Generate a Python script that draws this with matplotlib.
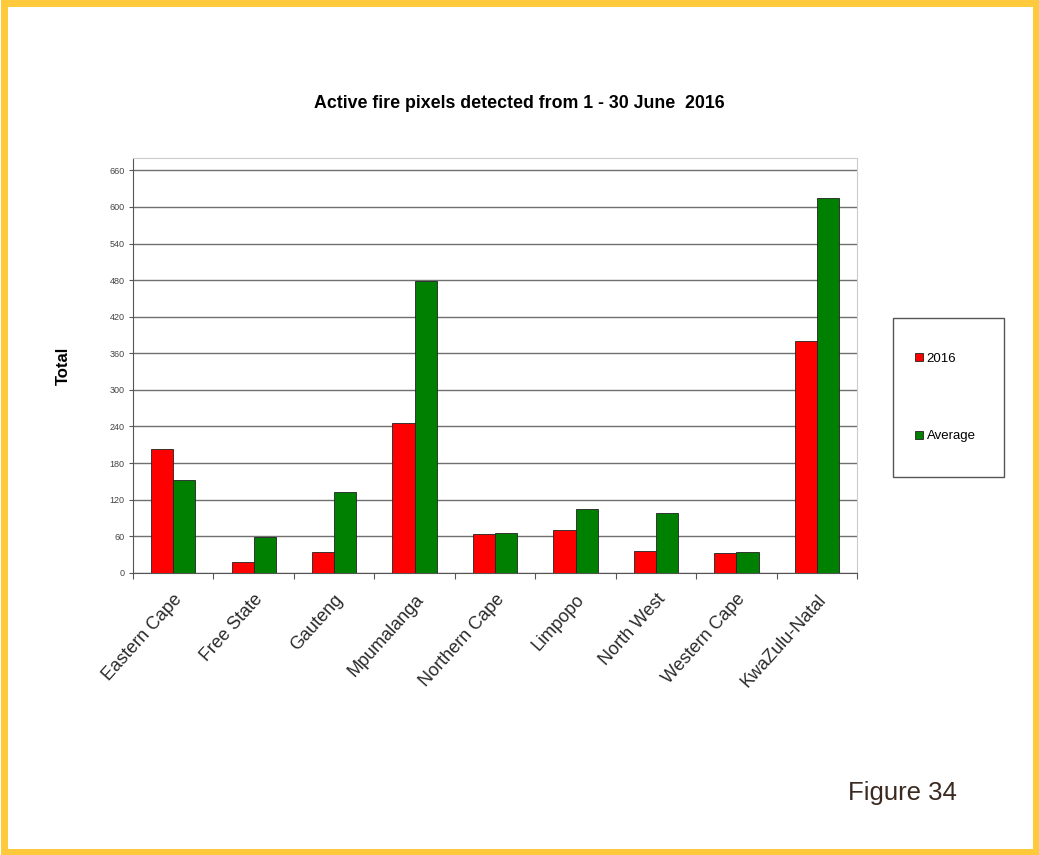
import numpy as np
import matplotlib.pyplot as plt
from matplotlib.patches import Rectangle

provinces = ['Eastern Cape', 'Free State', 'Gauteng', 'Mpumalanga', 'Northern Cape',
             'Limpopo', 'North West', 'Western Cape', 'KwaZulu-Natal']
fires_2016 = [203, 17, 34, 246, 64, 70, 36, 32, 380]
fires_avg = [153, 58, 133, 478, 65, 104, 98, 34, 615]
y_ticks = list(range(0, 661, 60))

plt.rcParams['font.family'] = ['Liberation Sans', 'DejaVu Sans']

W, H = 1039, 855
fig = plt.figure(figsize=(W / 100, H / 100), dpi=100)
ax = fig.add_axes([0.128, 0.330, 0.697, 0.485])

# yellow page frame
fig.patches.append(Rectangle((3.5 / W, 3.5 / H), 1 - 7 / W, 1 - 7 / H,
                             transform=fig.transFigure, fill=False,
                             edgecolor='#fec93a', linewidth=5, zorder=0))

x = np.arange(len(provinces))
w = 0.275
ax.bar(x - w / 2, fires_2016, w, color='#ff0000', edgecolor='#222222', linewidth=0.6,
       label='2016', zorder=3)
ax.bar(x + w / 2, fires_avg, w, color='#008000', edgecolor='#222222', linewidth=0.6,
       label='Average', zorder=3)

ax.set_xlim(-0.5, len(provinces) - 0.5)
ax.set_ylim(0, 680)
ax.set_yticks(y_ticks)
ax.set_yticklabels([str(v) for v in y_ticks], fontsize=6.5, color='#444444')
ax.yaxis.grid(True, color='#707070', linewidth=1.0, zorder=0)
ax.tick_params(axis='y', length=3, color='#555555', pad=3)

# category ticks sit between the groups
ax.set_xticks(np.arange(len(provinces) + 1) - 0.5, minor=False)
ax.set_xticklabels([])
ax.set_xticks(x, minor=True)
ax.set_xticklabels(provinces, minor=True, rotation=48, ha='right', rotation_mode='anchor',
                   fontsize=13, color='#2a2a2a')
ax.tick_params(axis='x', which='major', length=4, color='#555555')
ax.tick_params(axis='x', which='minor', length=0, pad=13)

for side in ['top', 'right']:
    ax.spines[side].set_color('#cccccc')
ax.spines['left'].set_color('#555555')
ax.spines['bottom'].set_color('#555555')

ax.set_ylabel('Total', fontsize=12, fontweight='bold', labelpad=28)
fig.text(0.5, 0.879, 'Active fire pixels detected from 1 - 30 June  2016',
         ha='center', va='center', fontsize=12.8, fontweight='bold')

# legend entries with a separate, taller frame
leg = fig.legend(loc='center left', bbox_to_anchor=(908 / W, 1 - 397.5 / H), fontsize=9.5,
                 handlelength=0.6, handleheight=0.6, handletextpad=0.3,
                 labelspacing=5.0, borderpad=0, frameon=False)
fig.patches.append(Rectangle((893 / W, 1 - 477 / H), 111 / W, 159 / H,
                             transform=fig.transFigure, fill=False,
                             edgecolor='#555555', linewidth=1.0))

fig.text(0.816, 0.064, 'Figure 34', fontsize=18.5, color='#3a2a20')

fig.savefig('out.png', dpi=100)
